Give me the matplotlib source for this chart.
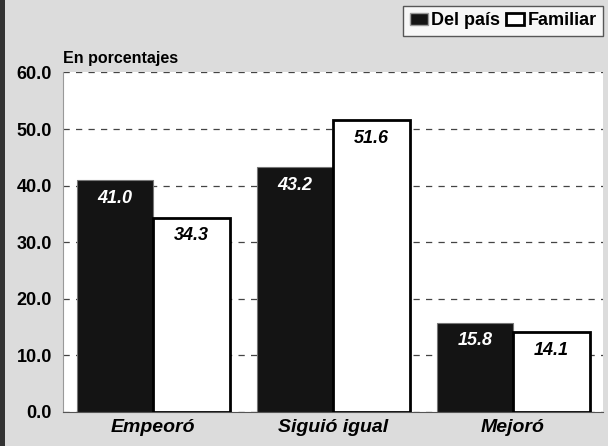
import matplotlib.pyplot as plt
from matplotlib.patches import Patch, Rectangle
import numpy as np

categories = ['Empeoró', 'Siguió igual', 'Mejoró']
del_pais = [41.0, 43.2, 15.8]
familiar = [34.3, 51.6, 14.1]
yticks = [0, 10, 20, 30, 40, 50, 60]

plt.rcParams['font.family'] = ['Liberation Sans', 'DejaVu Sans']

fig = plt.figure(figsize=(6.08, 4.46), dpi=100)
fig.patch.set_facecolor('#dcdcdc')
fig.patches.append(Rectangle((0, 0), 5 / 608, 1, transform=fig.transFigure,
                             facecolor='#333333', edgecolor='none'))

ax = fig.add_axes([63 / 608, 34 / 446, 540 / 608, 339.6 / 446])
ax.set_facecolor('white')

x = np.arange(len(categories))
w = 0.425
b1 = ax.bar(x - w / 2, del_pais, w, color='#141414', edgecolor='#777777', linewidth=0.8, zorder=3)
b2 = ax.bar(x + w / 2, familiar, w, color='white', edgecolor='black', linewidth=2, zorder=3)

for rect, v in zip(b1, del_pais):
    ax.text(rect.get_x() + rect.get_width() / 2, v - 3.2, '%.1f' % v, ha='center', va='center',
            color='white', fontsize=13, fontweight='bold', style='italic', zorder=4)
for rect, v in zip(b2, familiar):
    ax.text(rect.get_x() + rect.get_width() / 2, v - 3.2, '%.1f' % v, ha='center', va='center',
            color='black', fontsize=13, fontweight='bold', style='italic', zorder=4)

ax.set_xlim(-0.5, 2.5)
ax.set_ylim(0, 60)
ax.set_yticks(yticks)
ax.set_yticklabels(['%.1f' % t for t in yticks], fontsize=13, fontweight='bold')
ax.set_xticks(x)
ax.set_xticklabels(categories, fontsize=14, fontweight='bold', style='italic')
ax.tick_params(axis='y', length=0, pad=8)
ax.tick_params(axis='x', length=0, pad=5)
ax.yaxis.grid(True, linestyle=(0, (5, 5)), color='#444444', linewidth=0.9, zorder=0)
for s in ['top', 'right']:
    ax.spines[s].set_visible(False)
ax.spines['left'].set_color('#999999')
ax.spines['bottom'].set_color('#555555')

ax.text(0.0, 1.028, 'En porcentajes', transform=ax.transAxes, fontsize=11.5,
        fontweight='bold', ha='left', va='baseline')

handles = [Patch(facecolor='#141414', edgecolor='#999999', label='Del país'),
           Patch(facecolor='white', edgecolor='black', linewidth=2, label='Familiar')]
leg = fig.legend(handles=handles, loc='upper right', bbox_to_anchor=(603 / 608, 1 - 6 / 446),
                 ncol=2, frameon=True, fancybox=False, prop={'weight': 'bold', 'size': 13},
                 handlelength=1.0, handleheight=0.65, handletextpad=0.2, columnspacing=0.3,
                 borderpad=0.35, borderaxespad=0)
leg.get_frame().set_edgecolor('#333333')
leg.get_frame().set_linewidth(1.0)

fig.savefig('out.png', dpi=100, facecolor=fig.get_facecolor())
